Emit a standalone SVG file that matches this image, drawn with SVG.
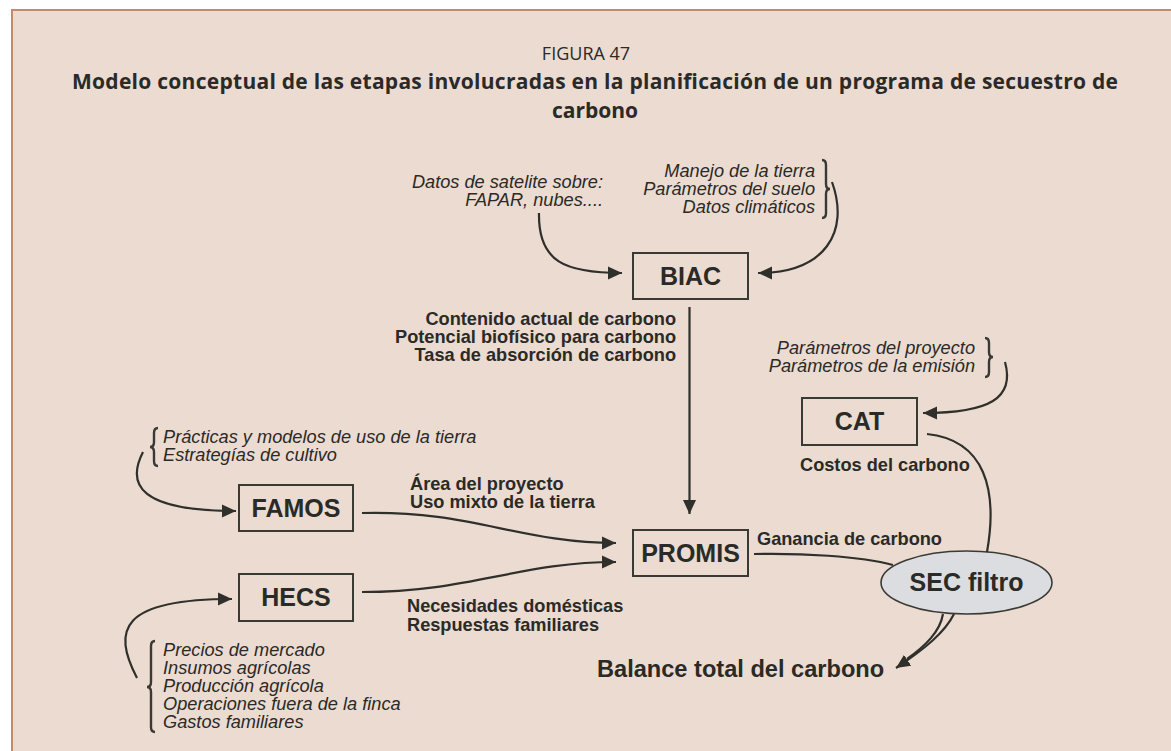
<svg xmlns="http://www.w3.org/2000/svg" width="1171" height="751" viewBox="0 0 1171 751">
<style>
.t{font-family:"Liberation Sans",Arial,sans-serif;fill:#2a2a27}
.it{font-style:italic;font-size:18.2px}
.bl{font-weight:bold;font-size:18.2px}
.bx{font-weight:bold;font-size:25px;text-anchor:middle}
.ti{font-family:"Open Sans","Noto Sans",sans-serif;fill:#2a2a28}
.box{fill:none;stroke:#3a3a35;stroke-width:2}
.ln{fill:none;stroke:#2f302b;stroke-width:2.2}
.br{fill:none;stroke:#3a3a35;stroke-width:2.4}
</style>
<defs>
<marker id="ah" markerWidth="15" markerHeight="14" refX="14" refY="7" orient="auto" markerUnits="userSpaceOnUse">
<path d="M0,0.5 L14,7 L0,13.5 Z" fill="#2f302b"/>
</marker>
</defs>
<rect x="12" y="10" width="1170" height="750" fill="#ecdbd1" stroke="#c48a6e" stroke-width="2"/>
<g id="title">
<text class="ti" x="586" y="60" font-size="18" text-anchor="middle">FIGURA 47</text>
<text class="ti" x="595" y="89" font-size="21" font-weight="bold" text-anchor="middle" textLength="1046">Modelo conceptual de las etapas involucradas en la planificación de un programa de secuestro de</text>
<text class="ti" x="595" y="118" font-size="21" font-weight="bold" text-anchor="middle">carbono</text>
</g>
<g id="inputs-biac">
<text class="t it" text-anchor="end"><tspan x="603" y="188">Datos de satelite sobre:</tspan><tspan x="603" y="206">FAPAR, nubes....</tspan></text>
<text class="t it" text-anchor="end"><tspan x="815" y="177">Manejo de la tierra</tspan><tspan x="815" y="195">Parámetros del suelo</tspan><tspan x="815" y="213">Datos climáticos</tspan></text>
<path class="br" d="M822,160 Q826,160 826,165 L826,184 Q826,189 830,189 Q826,189 826,194 L826,213 Q826,218 822,218"/>
</g>
<g id="BIAC">
<rect class="box" x="633" y="253" width="115" height="46"/>
<text class="t bx" x="690.5" y="285">BIAC</text>
</g>
<g id="biac-out">
<text class="t bl" text-anchor="end"><tspan x="676" y="325">Contenido actual de carbono</tspan><tspan x="676" y="343">Potencial biofísico para carbono</tspan><tspan x="676" y="361">Tasa de absorción de carbono</tspan></text>
</g>
<g id="inputs-cat">
<text class="t it" text-anchor="end"><tspan x="975" y="354">Parámetros del proyecto</tspan><tspan x="975" y="372">Parámetros de la emisión</tspan></text>
<path class="br" d="M985,338 Q989,338 989,343 L989,352 Q989,357 993,357 Q989,357 989,362 L989,372 Q989,377 985,377"/>
</g>
<g id="CAT">
<rect class="box" x="802" y="398" width="115" height="47"/>
<text class="t bx" x="859.5" y="430">CAT</text>
<text class="t bl" x="800" y="471">Costos del carbono</text>
</g>
<g id="inputs-famos">
<text class="t it"><tspan x="163" y="443">Prácticas y modelos de uso de la tierra</tspan><tspan x="163" y="461">Estrategías de cultivo</tspan></text>
<path class="br" d="M158,428 Q154,428 154,433 L154,442 Q154,447 150,447 Q154,447 154,452 L154,461 Q154,466 158,466"/>
</g>
<g id="FAMOS">
<rect class="box" x="239" y="485" width="114" height="46"/>
<text class="t bx" x="296" y="517">FAMOS</text>
</g>
<g id="famos-out">
<text class="t bl"><tspan x="410" y="490">Área del proyecto</tspan><tspan x="410" y="508">Uso mixto de la tierra</tspan></text>
</g>
<g id="HECS">
<rect class="box" x="239" y="574" width="114" height="47"/>
<text class="t bx" x="296" y="606">HECS</text>
</g>
<g id="hecs-out">
<text class="t bl"><tspan x="407" y="612">Necesidades domésticas</tspan><tspan x="407" y="631">Respuestas familiares</tspan></text>
</g>
<g id="inputs-hecs">
<text class="t it"><tspan x="163" y="656">Precios de mercado</tspan><tspan x="163" y="674">Insumos agrícolas</tspan><tspan x="163" y="692">Producción agrícola</tspan><tspan x="163" y="710">Operaciones fuera de la finca</tspan><tspan x="163" y="728">Gastos familiares</tspan></text>
<path class="br" d="M155,641 Q151,641 151,646 L151,682 Q151,687 147,687 Q151,687 151,692 L151,727 Q151,732 155,732"/>
</g>
<g id="PROMIS">
<rect class="box" x="633" y="530" width="115" height="46"/>
<text class="t bx" x="690.5" y="562">PROMIS</text>
<text class="t bl" x="757" y="545">Ganancia de carbono</text>
</g>
<g id="SEC">
<ellipse cx="966.5" cy="582.5" rx="85.5" ry="31.5" fill="#dcdde0" stroke="#3a3a35" stroke-width="1.6"/>
<text class="t bx" x="966.5" y="591">SEC filtro</text>
</g>
<g id="result">
<text class="t" x="597" y="677" font-weight="bold" font-size="23.6px">Balance total del carbono</text>
</g>
<g id="connectors">
<path class="ln" d="M539,213 C538,262 565,273 622,273" marker-end="url(#ah)"/>
<path class="ln" d="M832,182 C850,232 825,273 758,273" marker-end="url(#ah)"/>
<path class="ln" d="M689.5,307 L689.5,514" marker-end="url(#ah)"/>
<path class="ln" d="M1005,362 C1015,398 990,413 923,413" marker-end="url(#ah)"/>
<path class="ln" d="M927,434 C985,440 998,490 987,552"/>
<path class="ln" d="M143,452 C126,485 140,511 236,511" marker-end="url(#ah)"/>
<path class="ln" d="M362,513 C470,510 520,543 616,543" marker-end="url(#ah)"/>
<path class="ln" d="M137,678 C112,630 120,599 232,599" marker-end="url(#ah)"/>
<path class="ln" d="M362,592 C470,592 520,562 616,562" marker-end="url(#ah)"/>
<path class="ln" d="M754,554 C800,553 860,556 893,565"/>
<path class="ln" d="M943,614 C940,632 925,646 907,659"/>
<path class="ln" d="M954,614 C945,632 926,648 896,668" marker-end="url(#ah)"/>
</g>
</svg>
